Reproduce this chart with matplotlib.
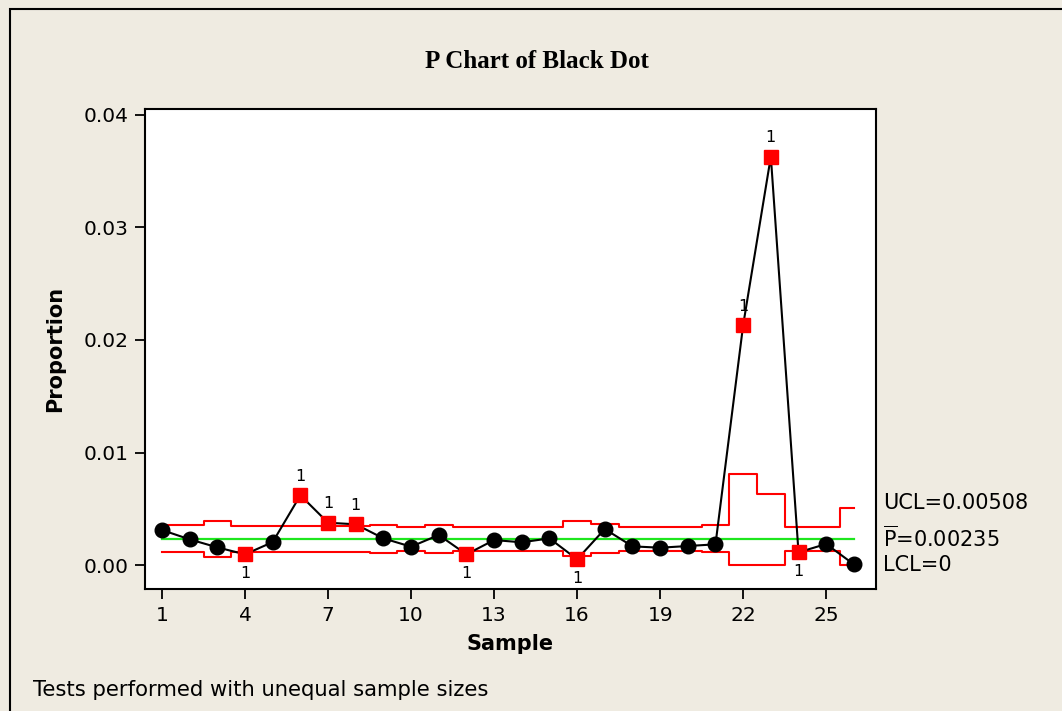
import matplotlib.pyplot as plt
from matplotlib.patches import Rectangle

plt.rcParams['font.family'] = ['DejaVu Sans']
plt.rcParams['mathtext.fontset'] = 'dejavusans'

samples = list(range(1, 27))
proportion = [0.00311, 0.00228, 0.00157, 0.00095, 0.00204, 0.00620, 0.00376, 0.00362,
              0.00237, 0.00163, 0.00267, 0.00095, 0.00222, 0.00202, 0.00237, 0.00051,
              0.00320, 0.00166, 0.00154, 0.00169, 0.00184, 0.02133, 0.03630, 0.00113,
              0.00187, 0.00006]
ucl = [0.00356, 0.00356, 0.00394, 0.00344, 0.00344, 0.00344, 0.00344, 0.00344,
       0.00356, 0.00341, 0.00356, 0.00341, 0.00341, 0.00341, 0.00341, 0.00394,
       0.00364, 0.00341, 0.00341, 0.00341, 0.00358, 0.00806, 0.00631, 0.00341,
       0.00341, 0.00508]
lcl = [0.00113, 0.00113, 0.00075, 0.00120, 0.00120, 0.00120, 0.00120, 0.00120,
       0.00110, 0.00126, 0.00110, 0.00126, 0.00126, 0.00126, 0.00126, 0.00076,
       0.00106, 0.00126, 0.00126, 0.00126, 0.00112, 0.0, 0.0, 0.00126,
       0.00126, 0.0]
p_bar = 0.00235
x_ticks = [1, 4, 7, 10, 13, 16, 19, 22, 25]
y_ticks = [0.00, 0.01, 0.02, 0.03, 0.04]

bg = '#efebe1'
W, H = 1062, 711

fig = plt.figure(figsize=(W / 100, H / 100), dpi=100, facecolor=bg)
ax = fig.add_axes([145 / W, 1 - 589 / H, (876 - 145) / W, (589 - 109) / H])
ax.set_facecolor('white')

# outer frame (only left and top edges fall inside the picture)
fig.patches.append(Rectangle((10 / W, -0.1), 1.2, (H - 9) / H + 0.1,
                             transform=fig.transFigure, fill=False,
                             ec='black', lw=1.5))

ax.step(samples, ucl, where='mid', color='red', lw=1.5, zorder=2)
ax.step(samples, lcl, where='mid', color='red', lw=1.5, zorder=2)
ax.plot([samples[0], samples[-1]], [p_bar, p_bar], color='#1ee61e', lw=1.6, zorder=2)
ax.plot(samples, proportion, color='black', lw=1.5, zorder=3)

for s, v, u, l in zip(samples, proportion, ucl, lcl):
    if v > u or v < l:
        ax.plot(s, v, 's', color='red', ms=9.5, mec='red', zorder=4)
        off = 13.5 if v > u else -13.5
        ax.annotate('1', (s, v), xytext=(0, off), textcoords='offset points',
                    ha='center', va='center', fontsize=11.5, zorder=5)
    else:
        ax.plot(s, v, 'o', color='black', ms=10.5, zorder=4)

ax.set_xlim(0.3856, 26.80)
ax.set_ylim(-0.00213, 0.04053)
ax.set_xticks(x_ticks)
ax.set_yticks(y_ticks)
ax.set_yticklabels([f'{t:.2f}' for t in y_ticks])
ax.tick_params(direction='out', length=7, width=1.3, labelsize=14.5, pad=5,
               top=False, right=False)
for sp in ax.spines.values():
    sp.set_linewidth(1.5)

ax.set_xlabel('Sample', fontsize=15, fontweight='bold', labelpad=7)
ax.set_ylabel('Proportion', fontsize=15, fontweight='bold', labelpad=13)

lab = dict(transform=ax.get_yaxis_transform(), ha='left', va='center',
           fontsize=15, clip_on=False)
ax.text(1.01, 0.0055, f'UCL={ucl[-1]:.5f}', **lab)
ax.text(1.01, 0.0024, r'$\overline{\mathrm{P}}$' + f'={p_bar:.5f}', **lab)
ax.text(1.01, 0.0, 'LCL=0', **lab)

fig.text(537 / W, 1 - 62 / H, 'P Chart of Black Dot', ha='center', va='center',
         family='Liberation Serif', fontweight='bold', fontsize=18)
fig.text(33 / W, 1 - 690 / H, 'Tests performed with unequal sample sizes',
         ha='left', va='center', fontsize=15.2)

fig.savefig('out.png', dpi=100, facecolor=bg)
